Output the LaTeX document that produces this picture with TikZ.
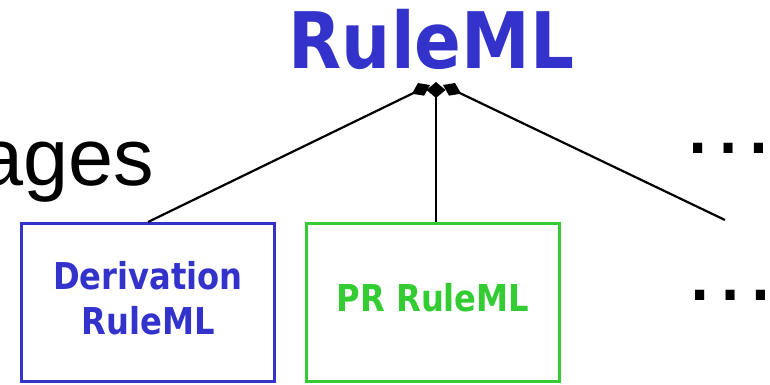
\documentclass[tikz,border=0pt]{standalone}
\usepackage{fontspec}
\usepackage{graphicx}
\setmainfont{Liberation Sans}
\newfontfamily\vsans{DejaVu Sans}
\usetikzlibrary{arrows.meta}
\definecolor{rmblue}{RGB}{51,51,204}
\definecolor{rmgreen}{RGB}{51,204,51}
\newcommand{\narrow}[1]{\scalebox{0.87}[1]{#1}}
\tikzset{
  langbox/.style={draw, line width=3pt, minimum width=253pt, minimum height=158pt,
    inner sep=0pt},
  langlabel/.style={inner sep=0pt, align=center,
    font=\vsans\bfseries\fontsize{37}{45}\selectfont},
  link/.style={line width=2.2pt, -{Diamond[length=20pt,width=14pt]}},
  uplink/.style={line width=2.2pt, -{Diamond[length=16pt,width=19pt]}},
  bigtext/.style={inner sep=0pt, anchor=base west}
}
\begin{document}
\begin{tikzpicture}[x=1pt,y=-1pt]
\clip (0,0) rectangle (770,385);
\fill[white] (0,0) rectangle (770,385);

% family root
\node[inner sep=0pt, anchor=base, text=rmblue,
      font=\vsans\bfseries\fontsize{78}{78}\selectfont] (root) at (431.5,69) {\scalebox{0.885}[1]{RuleML}};

% tail of the slide heading, and the elided siblings
\node[bigtext, font=\fontsize{81}{81}\selectfont] (heading) at (-22,185) {ages};
\node[bigtext, font=\fontsize{96}{96}\selectfont] (moreA) at (680,153) {…};
\node[bigtext, font=\fontsize{96}{96}\selectfont] (moreB) at (682,300) {…};

% sublanguages
\node[langbox, draw=rmblue] (deriv) at (148,302.5) {};
\node[langlabel, text=rmblue] (derivtext) at ([yshift=4pt]deriv.center)
  {\narrow{Derivation}\\\narrow{RuleML}};
\node[langbox, draw=rmgreen] (pr) at (433,302.5) {};
\node[langlabel, text=rmgreen] (prtext) at ([yshift=4.5pt]pr.center) {\narrow{PR RuleML}};

% aggregation ends under the root
\coordinate (hl) at (430,85);
\coordinate (hm) at (436,82);
\coordinate (hr) at (443,85);
\coordinate (more) at (725,220);

\draw[link] (deriv.north) -- (hl);
\draw[uplink] (pr.north -| hm) -- (hm);
\draw[link] (more) -- (hr);
\end{tikzpicture}
\end{document}
